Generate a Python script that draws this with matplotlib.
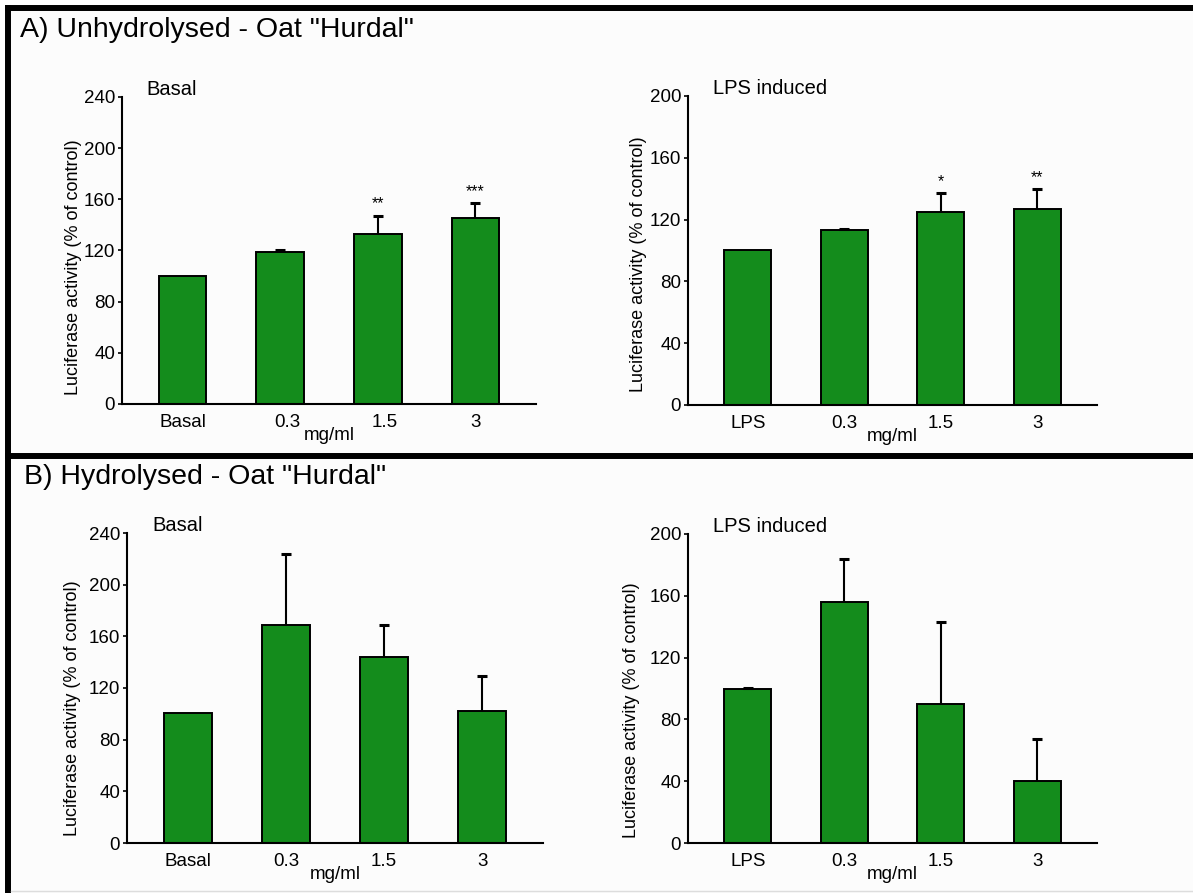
import matplotlib
matplotlib.use("Agg")
import matplotlib.pyplot as plt
import matplotlib.transforms as mtransforms
from matplotlib.lines import Line2D

plt.rcParams["font.family"] = ["Liberation Sans", "DejaVu Sans"]

W, H = 1193, 893
GREEN = "#148c1c"

# dose groups
basal_groups = ["Basal", "0.3", "1.5", "3"]
lps_groups = ["LPS", "0.3", "1.5", "3"]

# A) unhydrolysed oat
a_basal_mean = [100, 119, 133, 145.5]
a_basal_sem = [0, 1.5, 14, 11.5]
a_basal_sig = ["", "", "**", "***"]

a_lps_mean = [100, 113, 125, 127]
a_lps_sem = [0, 1, 12, 12.5]
a_lps_sig = ["", "", "*", "**"]

# B) hydrolysed oat
b_basal_mean = [101, 169, 144, 102]
b_basal_sem = [0, 55, 25, 27]

b_lps_mean = [99.5, 156, 90, 40]
b_lps_sem = [1, 28, 53, 27.5]

fig = plt.figure(figsize=(W / 100, H / 100), dpi=100)
fig.patch.set_facecolor("white")


def px_axes(x0, x1, y_top, y_bot):
    return fig.add_axes([x0 / W, 1 - y_bot / H, (x1 - x0) / W, (y_bot - y_top) / H])


def bar_panel(ax, groups, mean, sem, ymax, subtitle, sig=None):
    x = list(range(len(groups)))
    ax.bar(x, mean, width=0.49, color=GREEN, edgecolor="black", linewidth=1.4, zorder=2)
    # one-sided error bars, cap only on top
    for xi, m, e in zip(x, mean, sem):
        if e > 0:
            ax.vlines(xi, m, m + e, color="black", linewidth=1.5, zorder=3)
            ax.plot(xi, m + e, marker="_", ms=7, mew=2.2, color="black", zorder=3)
    if sig:
        for xi, m, e, s in zip(x, mean, sem, sig):
            if s:
                ax.text(xi, m + e + 3.5 * ymax / 240, s, ha="center", va="bottom",
                        fontsize=11.5)
    ax.set_xlim(-0.62, 3.62)
    ax.set_ylim(0, ymax)
    ax.set_yticks(range(0, ymax + 1, 40))
    ax.set_xticks(x)
    ax.set_xticklabels(groups)
    ax.tick_params(axis="x", length=0, pad=7, labelsize=13.5)
    ax.tick_params(axis="y", length=3, width=1.2, pad=2, labelsize=13.5)
    for side in ("top", "right"):
        ax.spines[side].set_visible(False)
    for side in ("left", "bottom"):
        ax.spines[side].set_linewidth(1.5)
    ax.set_facecolor("none")
    ax.set_xlabel("mg/ml", fontsize=13.5, labelpad=-3)
    ax.set_ylabel("Luciferase activity (% of control)", fontsize=13)
    ax.text(0.06, 1.025, subtitle, transform=ax.transAxes, fontsize=14.5,
            ha="left", va="center")


ax1 = px_axes(122, 536, 97, 404)
bar_panel(ax1, basal_groups, a_basal_mean, a_basal_sem, 240, "Basal", a_basal_sig)
ax1.yaxis.set_label_coords(-0.097, 0.445)
# middle dose labels sit a little right of their bars here
for lbl in ax1.get_xticklabels()[1:3]:
    lbl.set_transform(lbl.get_transform() +
                      mtransforms.ScaledTranslation(7 / 100, 0, fig.dpi_scale_trans))

ax2 = px_axes(688, 1097, 96, 405)
bar_panel(ax2, lps_groups, a_lps_mean, a_lps_sem, 200, "LPS induced", a_lps_sig)
ax2.yaxis.set_label_coords(-0.1, 0.455)

ax3 = px_axes(127, 543, 533, 843)
bar_panel(ax3, basal_groups, b_basal_mean, b_basal_sem, 240, "Basal")
ax3.yaxis.set_label_coords(-0.11, 0.435)

ax4 = px_axes(688, 1097, 534, 843)
bar_panel(ax4, lps_groups, b_lps_mean, b_lps_sem, 200, "LPS induced")
ax4.yaxis.set_label_coords(-0.117, 0.43)

# panel background and frame
fig.patches.append(plt.Rectangle((5 / W, 0), 1, 1 - 5 / H, transform=fig.transFigure,
                                 facecolor="#fcfcfc", edgecolor="none", zorder=-10))
frame = dict(color="black", linewidth=4.3, solid_capstyle="butt", transform=fig.transFigure)
fig.add_artist(Line2D([8 / W, 8 / W], [0, 1 - 5 / H], **frame))
fig.add_artist(Line2D([5 / W, 1], [1 - 7.5 / H, 1 - 7.5 / H], **frame))
fig.add_artist(Line2D([5 / W, 1], [1 - 455.5 / H, 1 - 455.5 / H], **frame))
fig.add_artist(Line2D([11 / W, 1], [1 - 891 / H, 1 - 891 / H], color="#dddddd",
                      linewidth=1, transform=fig.transFigure))

fig.text(20 / W, 1 - 30 / H, 'A) Unhydrolysed - Oat "Hurdal"', fontsize=20.5,
         ha="left", va="center")
fig.text(24 / W, 1 - 477 / H, 'B) Hydrolysed - Oat "Hurdal"', fontsize=20.5,
         ha="left", va="center")

fig.savefig("out.png", dpi=100, facecolor=fig.get_facecolor())
